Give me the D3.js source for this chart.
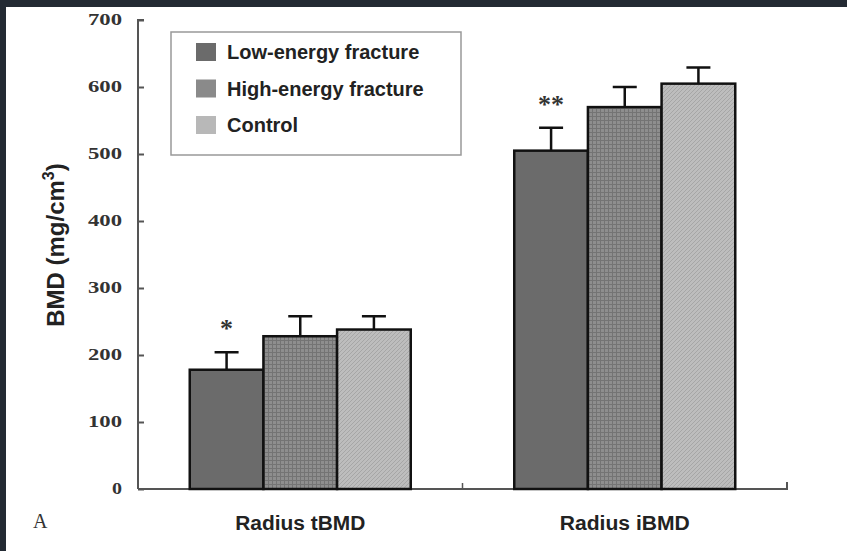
<!DOCTYPE html>
<html>
<head>
<meta charset="utf-8">
<script src="https://cdn.jsdelivr.net/npm/d3@7"></script>
<style>
  body { margin: 0; background: #232a33; }
  svg { display: block; }
</style>
</head>
<body>
<div id="root"></div>
<script>
var categories = ["Radius tBMD", "Radius iBMD"];
var groups = ["Low-energy fracture", "High-energy fracture", "Control"];
var means = {
  "Low-energy fracture": [178, 505],
  "High-energy fracture": [228, 570],
  "Control": [238, 605]
};
var errors = {
  "Low-energy fracture": [26, 34],
  "High-energy fracture": [30, 30],
  "Control": [20, 24]
};
var marks = ["*", "**"];
var yTicks = [0, 100, 200, 300, 400, 500, 600, 700];

var width = 847, height = 551;

var svg = d3.select("#root")
    .append("svg")
    .attr("width", width)
    .attr("height", height);

// dark frame on the top and left, white page
svg.append("rect").attr("width", width).attr("height", height).attr("fill", "#232a33");
svg.append("rect").attr("x", 6).attr("y", 7).attr("width", width - 6).attr("height", height - 7).attr("fill", "#ffffff");

var defs = svg.append("defs");

// cross hatch for high-energy
var p1 = defs.append("pattern").attr("id", "grid").attr("patternUnits", "userSpaceOnUse")
    .attr("width", 4).attr("height", 4);
p1.append("rect").attr("width", 4).attr("height", 4).attr("fill", "#8e8e8e");
p1.append("path").attr("d", "M0,0.5H4M0.5,0V4").attr("stroke", "#747474").attr("stroke-width", 1);

// diagonal hatch for control
var p2 = defs.append("pattern").attr("id", "diag").attr("patternUnits", "userSpaceOnUse")
    .attr("width", 4).attr("height", 4);
p2.append("rect").attr("width", 4).attr("height", 4).attr("fill", "#bdbdbd");
p2.append("path").attr("d", "M-1,5L5,-1M-1,1L1,-1M3,5L5,3").attr("stroke", "#a6a6a6").attr("stroke-width", 1);

var fills = ["#6b6b6b", "url(#grid)", "url(#diag)"];
var swatchFills = ["#6b6b6b", "#8a8a8a", "#b8b8b8"];

var x = d3.scaleBand()
    .domain(categories)
    .range([138, 787]);

var xInner = d3.scaleBand()
    .domain(groups)
    .range([0, 221]);

var y = d3.scaleLinear()
    .domain([0, 700])
    .range([489, 20]);

// y axis
var yAxis = d3.axisRight(y).tickValues(yTicks).tickSize(6).tickFormat("");
var gy = svg.append("g").attr("transform", "translate(138,0)").call(yAxis);
gy.selectAll("path,line").attr("stroke", "#555").attr("stroke-width", 2);
gy.select(".domain").attr("d", "M6,20H0V489");

svg.selectAll(".ylab")
    .data(yTicks)
    .enter()
    .append("text")
    .attr("class", "ylab")
    .attr("x", function (d) { return d === 0 ? 112 : 88; })
    .attr("y", function (d) { return y(d) + 5; })
    .attr("textLength", function (d) { return d === 0 ? 10 : 34; })
    .attr("lengthAdjust", "spacingAndGlyphs")
    .attr("font-family", "Liberation Serif, Times New Roman, serif")
    .attr("font-weight", "bold")
    .attr("font-size", 16)
    .attr("fill", "#333")
    .text(function (d) { return d; });

// x axis
svg.append("path")
    .attr("d", "M138,489H787V482")
    .attr("fill", "none")
    .attr("stroke", "#555")
    .attr("stroke-width", 2);
svg.append("line")
    .attr("x1", x(categories[1])).attr("x2", x(categories[1]))
    .attr("y1", 489).attr("y2", 483)
    .attr("stroke", "#555").attr("stroke-width", 1.5);

svg.selectAll(".xlab")
    .data(categories)
    .enter()
    .append("text")
    .attr("class", "xlab")
    .attr("x", function (d) { return x(d) + x.bandwidth() / 2 - 65; })
    .attr("y", 530)
    .attr("textLength", 130)
    .attr("lengthAdjust", "spacingAndGlyphs")
    .attr("font-family", "Liberation Sans, Arial, sans-serif")
    .attr("font-weight", "bold")
    .attr("font-size", 20)
    .attr("fill", "#222")
    .text(function (d) { return d; });

// bars
var rows = [];
categories.forEach(function (c, ci) {
  groups.forEach(function (g, gi) {
    rows.push({ cat: c, ci: ci, group: g, gi: gi, v: means[g][ci], e: errors[g][ci] });
  });
});

function barX(d) {
  return x(d.cat) + (x.bandwidth() - 221) / 2 + xInner(d.group);
}

var bars = svg.append("g");

// error bars
bars.selectAll(".err")
    .data(rows)
    .enter()
    .append("path")
    .attr("class", "err")
    .attr("d", function (d) {
      var cx = barX(d) + xInner.bandwidth() / 2;
      return "M" + cx + "," + y(d.v) + "V" + y(d.v + d.e) +
        "M" + (cx - 12) + "," + y(d.v + d.e) + "H" + (cx + 12);
    })
    .attr("fill", "none")
    .attr("stroke", "#111")
    .attr("stroke-width", 2.5);

bars.selectAll("rect")
    .data(rows)
    .enter()
    .append("rect")
    .attr("x", barX)
    .attr("y", function (d) { return y(d.v); })
    .attr("width", xInner.bandwidth())
    .attr("height", function (d) { return y(0) - y(d.v); })
    .attr("fill", function (d) { return fills[d.gi]; })
    .attr("stroke", "#111")
    .attr("stroke-width", 2.5);

// significance marks
svg.selectAll(".sig")
    .data(categories)
    .enter()
    .append("text")
    .attr("class", "sig")
    .attr("x", function (d) {
      return x(d) + (x.bandwidth() - 221) / 2 + xInner.bandwidth() / 2;
    })
    .attr("y", function (d, i) {
      var g = groups[0];
      return y(means[g][i] + errors[g][i]) - 15;
    })
    .attr("text-anchor", "middle")
    .attr("font-family", "Liberation Serif, serif")
    .attr("font-weight", "bold")
    .attr("font-size", 26)
    .attr("fill", "#333")
    .text(function (d, i) { return marks[i]; });

// y label
svg.append("text")
    .attr("transform", "translate(64,245) rotate(-90)")
    .attr("text-anchor", "middle")
    .attr("font-family", "Liberation Sans, Arial, sans-serif")
    .attr("font-weight", "bold")
    .attr("font-size", 24)
    .attr("fill", "#222")
    .html('BMD (mg/cm<tspan dy="-10" font-size="16">3</tspan><tspan dy="10">)</tspan>');

// panel letter
svg.append("text")
    .attr("x", 33)
    .attr("y", 528)
    .attr("font-family", "Liberation Serif, serif")
    .attr("font-size", 20)
    .attr("fill", "#333")
    .text("A");

// legend
var legend = svg.append("g");
legend.append("rect")
    .attr("x", 171).attr("y", 32)
    .attr("width", 290).attr("height", 123)
    .attr("fill", "#fff")
    .attr("stroke", "#999")
    .attr("stroke-width", 1.5);

var li = legend.selectAll(".li")
    .data(groups)
    .enter()
    .append("g")
    .attr("transform", function (d, i) { return "translate(196," + (52 + i * 36.5) + ")"; });
li.append("rect")
    .attr("x", 0).attr("y", -9)
    .attr("width", 20).attr("height", 18)
    .attr("fill", function (d, i) { return swatchFills[i]; });
li.append("text")
    .attr("x", 31)
    .attr("y", 7)
    .attr("font-family", "Liberation Sans, Arial, sans-serif")
    .attr("font-weight", "bold")
    .attr("font-size", 20)
    .attr("fill", "#222")
    .text(function (d) { return d; });
</script>
</body>
</html>
